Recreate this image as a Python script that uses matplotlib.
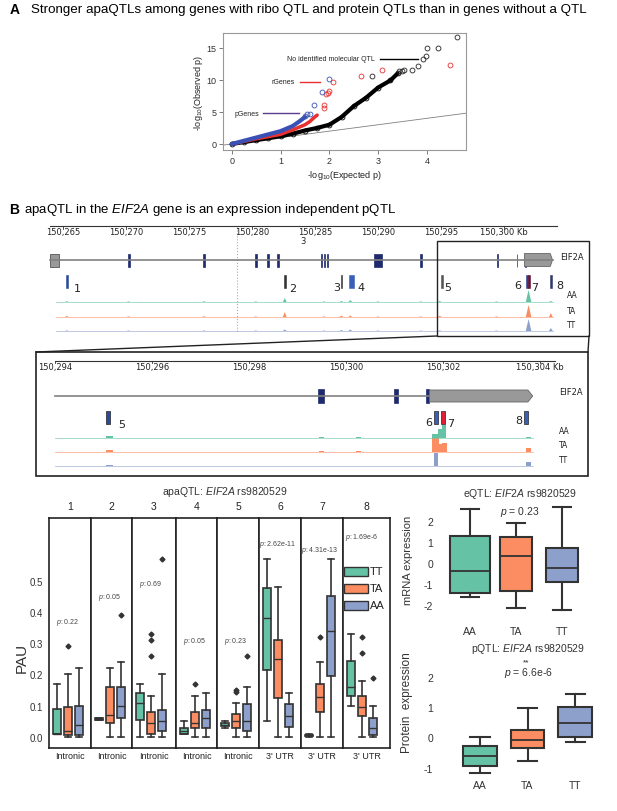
import matplotlib
matplotlib.use('Agg')
import matplotlib.pyplot as plt
from matplotlib.patches import Rectangle, Polygon

plt.rcParams['font.family'] = ['Liberation Sans', 'DejaVu Sans']
plt.rcParams['mathtext.fontset'] = 'custom'
plt.rcParams['mathtext.rm'] = 'Liberation Sans'
plt.rcParams['mathtext.it'] = 'Liberation Sans:italic'
plt.rcParams['axes.unicode_minus'] = False

# ---------------- data ----------------
# panel A: QQ plot (-log10 expected, -log10 observed)
qq_none_x = [0.0, 0.25, 0.5, 0.75, 1.0, 1.25, 1.5, 1.75, 2.0, 2.25, 2.5, 2.75, 3.0, 3.25, 3.4]
qq_none_y = [0.0, 0.3, 0.6, 0.9, 1.2, 1.6, 2.1, 2.5, 3.0, 4.2, 5.9, 7.2, 8.8, 9.9, 11.0]
qq_none_tail_x = [2.87, 3.42, 3.48, 3.53, 3.70, 3.82, 3.92, 3.97, 4.01, 4.23, 4.61]
qq_none_tail_y = [10.6, 11.35, 11.45, 11.6, 11.6, 12.1, 13.3, 13.65, 14.95, 14.95, 16.7]
qq_r_x = [0.0, 0.5, 1.0, 1.25, 1.5, 1.6, 1.7, 1.75]
qq_r_y = [0.0, 0.8, 1.5, 2.2, 3.0, 3.5, 4.2, 4.5]
qq_r_tail_x = [1.88, 1.9, 1.93, 1.97, 2.0, 2.08, 2.65, 3.07, 4.47]
qq_r_tail_y = [5.6, 6.0, 7.8, 8.0, 8.2, 9.7, 10.6, 11.5, 12.3]
qq_p_x = [0.0, 0.5, 1.0, 1.25, 1.4, 1.5]
qq_p_y = [0.0, 1.0, 2.0, 2.8, 3.6, 4.2]
qq_p_tail_x = [1.5, 1.55, 1.6, 1.69, 1.85, 1.99]
qq_p_tail_y = [4.3, 4.6, 4.7, 6.0, 8.1, 10.1]

# panel B: EIF2A gene model (kb)
exon_start = [150270.15, 150276.15, 150280.25, 150281.2, 150282.0, 150285.45, 150285.7,
              150285.95, 150289.7, 150293.35, 150299.42, 150301.0, 150301.65]
exon_end = [150270.3, 150276.3, 150280.4, 150281.35, 150282.15, 150285.55, 150285.8,
            150286.05, 150290.3, 150293.5, 150299.55, 150301.07, 150301.72]
utr5 = (150264.0, 150264.7)
utr3 = (150301.72, 150303.85)
top_ticks = [150265, 150270, 150275, 150280, 150285, 150290, 150295, 150300]
low_ticks = [150294, 150296, 150298, 150300, 150302, 150304]

# polyA sites 1-8
pas_ids = ['1', '2', '3', '4', '5', '6', '7', '8']
pas_pos = [150265.3, 150282.6, 150287.1, 150287.9, 150295.1, 150301.85, 150302.0, 150303.72]
pas_col_top = ['#2c4a9a', '#333333', '#333333', '#3a5fb8', '#555555', '#2c3f8c', '#6a1030', '#333a66']
pas_col_low = ['#2c4a9a', '#333333', '#333333', '#3a5fb8', '#2c4a9a', '#3a5fb8', '#e0203a', '#3a5fb8']

# read coverage (peak position kb, height px) per genotype, whole gene view
cov_pos = [150265.3, 150270.2, 150276.2, 150280.3, 150282.6, 150285.7, 150287.1, 150287.8,
           150290.0, 150293.4, 150294.9, 150299.4, 150301.95, 150303.72]
cov_top = {
    'AA': [0.8, 0.6, 0.8, 0.6, 4.0, 0.6, 1.0, 2.0, 0.6, 0.6, 1.0, 0.6, 12.0, 1.0],
    'TA': [1.0, 0.6, 0.8, 0.6, 5.0, 0.6, 1.5, 1.5, 0.6, 0.6, 1.2, 0.6, 12.0, 4.0],
    'TT': [0.6, 0.5, 0.6, 0.5, 1.5, 0.5, 1.0, 1.5, 0.5, 0.5, 0.6, 0.5, 12.0, 3.0],
}
# zoomed view coverage: (start kb, end kb, height px)
cov_low = {
    'AA': [(150295.05, 150295.2, 1.5), (150299.45, 150299.55, 0.7), (150300.2, 150300.3, 0.7),
           (150301.78, 150301.9, 4.0), (150301.9, 150301.98, 9.0), (150301.98, 150302.06, 13.0),
           (150303.72, 150303.82, 1.0)],
    'TA': [(150295.05, 150295.2, 2.5), (150299.45, 150299.55, 0.8), (150300.2, 150300.3, 0.8),
           (150301.78, 150301.92, 14.0), (150301.92, 150301.98, 8.0), (150301.98, 150302.08, 9.0),
           (150303.72, 150303.82, 4.5)],
    'TT': [(150295.05, 150295.2, 0.8), (150299.45, 150299.55, 0.5), (150300.2, 150300.3, 0.5),
           (150301.82, 150301.9, 13.0), (150303.72, 150303.82, 4.0)],
}
geno_tracks = ['AA', 'TA', 'TT']
track_col = {'AA': '#66c2a5', 'TA': '#fc8d62', 'TT': '#8da0cb'}

# PAU boxplots, per site: [TT, TA, AA]
pau_geno = ['TT', 'TA', 'AA']
pau_col = ['#66c2a5', '#fc8d62', '#8da0cb']
site_type = ['Intronic'] * 5 + ["3' UTR"] * 3
pau_p = ['0.22', '0.05', '0.69', '0.05', '0.23', '2.62e-11', '4.31e-13', '1.69e-6']
pau_q1 = [[0.01, 0.005, 0.005], [0.053, 0.045, 0.06], [0.055, 0.01, 0.02], [0.01, 0.03, 0.03],
          [0.035, 0.03, 0.02], [0.214, 0.124, 0.033], [0.002, 0.08, 0.194], [0.13, 0.066, 0.007]]
pau_med = [[0.01, 0.02, 0.04], [0.057, 0.07, 0.10], [0.11, 0.045, 0.05], [0.02, 0.045, 0.06],
           [0.04, 0.05, 0.05], [0.38, 0.25, 0.067], [0.005, 0.127, 0.34], [0.16, 0.097, 0.03]]
pau_q3 = [[0.09, 0.095, 0.10], [0.06, 0.16, 0.16], [0.14, 0.08, 0.085], [0.03, 0.08, 0.085],
          [0.045, 0.075, 0.105], [0.475, 0.31, 0.105], [0.008, 0.17, 0.45], [0.244, 0.13, 0.06]]
pau_lo = [[0.01, 0.0, 0.0], [0.053, 0.0, 0.0], [0.0, 0.0, 0.0], [0.01, 0.0, 0.0],
          [0.03, 0.0, 0.0], [0.05, 0.0, 0.0], [0.0, 0.0, 0.0], [0.098, 0.0, 0.0]]
pau_hi = [[0.17, 0.20, 0.22], [0.06, 0.22, 0.24], [0.17, 0.13, 0.20], [0.05, 0.13, 0.14],
          [0.05, 0.11, 0.16], [0.57, 0.48, 0.14], [0.01, 0.24, 0.57], [0.33, 0.18, 0.10]]
pau_out = [[[], [0.29], []], [[], [], [0.39]], [[], [0.26, 0.31, 0.33], [0.57]], [[], [0.17], []],
           [[], [0.145, 0.15], [0.26]], [[], [], []], [[], [0.32], []], [[], [0.27, 0.32], [0.19]]]
p_label_y = [0.37, 0.45, 0.49, 0.31, 0.31, 0.62, 0.60, 0.64]

# eQTL / pQTL boxplots: [AA, TA, TT]
qtl_geno = ['AA', 'TA', 'TT']
qtl_col = ['#66c2a5', '#fc8d62', '#8da0cb']
e_q1 = [-1.44, -1.32, -0.92]
e_med = [-0.37, 0.35, -0.24]
e_q3 = [1.3, 1.22, 0.71]
e_lo = [-1.63, -2.16, -2.24]
e_hi = [2.57, 1.89, 2.68]
p_q1 = [-0.94, -0.36, 0.02]
p_med = [-0.63, -0.09, 0.46]
p_q3 = [-0.28, 0.25, 0.99]
p_lo = [-1.18, -0.77, -0.17]
p_hi = [0.02, 0.98, 1.43]

# ---------------- figure ----------------
W, H = 617, 812
fig = plt.figure(figsize=(W / 100, H / 100), dpi=100)


def px_axes(l, t, r, b):
    return fig.add_axes([l / W, 1 - b / H, (r - l) / W, (b - t) / H])


# ---- panel A ----
ax = px_axes(223, 34, 466, 151)
ax.set_xlim(-0.18, 4.8)
ax.set_ylim(-0.94, 17.3)
ax.plot([-0.18, 4.8], [-0.18, 4.8], color='#808080', lw=0.6)
ax.plot(qq_none_x, qq_none_y, color='black', lw=3, solid_capstyle='round')
ax.plot(qq_none_x, qq_none_y, 'o', mfc='none', mec='black', ms=3.5, mew=0.6)
ax.plot(qq_none_tail_x, qq_none_tail_y, 'o', mfc='none', mec='#222', ms=3.5, mew=0.6)
ax.plot(qq_r_x, qq_r_y, color='#e8312f', lw=2.5, solid_capstyle='round')
ax.plot(qq_r_tail_x, qq_r_tail_y, 'o', mfc='none', mec='#e8312f', ms=3.5, mew=0.6)
ax.plot(qq_p_x, qq_p_y, color='#3a50b5', lw=3, solid_capstyle='round')
ax.plot(qq_p_tail_x, qq_p_tail_y, 'o', mfc='none', mec='#3a50b5', ms=3.5, mew=0.6)
ax.text(1.13, 13.4, 'No identified molecular QTL', fontsize=5, va='center', color='#222')
ax.plot([3.03, 3.82], [13.3, 13.3], color='black', lw=1)
ax.text(0.82, 9.7, 'rGenes', fontsize=5, va='center', color='#222')
ax.plot([1.39, 1.80], [9.6, 9.6], color='#e8312f', lw=1)
ax.text(0.06, 4.8, 'pGenes', fontsize=5, va='center', color='#222')
ax.plot([0.64, 1.37], [4.8, 4.8], color='#5b3c8f', lw=1)
ax.set_xticks([0, 1, 2, 3, 4])
ax.set_yticks([0, 5, 10, 15])
ax.tick_params(labelsize=6.5, length=3, width=0.6, color='#666', labelcolor='#333', pad=1.5)
for s in ax.spines.values():
    s.set_color('#999')
    s.set_linewidth(0.8)
ax.set_xlabel('-log$_{10}$(Expected p)', fontsize=6.5, labelpad=2, color='#222')
ax.set_ylabel('-log$_{10}$(Observed p)', fontsize=6.5, labelpad=1, color='#222')

# ---- panel B: whole gene track ----
t0, s0 = 150265, 12.6          # kb at px 63, px per kb
trk = px_axes(40, 222, 600, 340)
trk.set_xlim(t0 + (40 - 63) / s0, t0 + (600 - 63) / s0)
trk.set_ylim(340, 222)
trk.axis('off')
trk.plot([t0 + (50 - 63) / s0, t0 + (557 - 63) / s0], [227, 227], color='#333', lw=0.8)
for t in top_ticks:
    trk.plot([t, t], [227, 229.5], color='#333', lw=0.6)
    lab = f'{t:,}' + (' Kb' if t == top_ticks[-1] else '')
    trk.text(t, 232.5, lab, fontsize=6, family='DejaVu Sans', ha='center', va='center', color='#222')
trk.text(t0 + (303 - 63) / s0, 242, '3', fontsize=6, family='DejaVu Sans', ha='center', va='center', color='#222')
trk.plot([150278.8, 150278.8], [228, 334], color='#aaaaaa', ls=':', lw=0.8)
trk.plot([utr5[0], utr3[1]], [261, 261], color='#808080', lw=1.2)
trk.add_patch(Rectangle((utr5[0], 254.5), utr5[1] - utr5[0], 13, fc='#999999', ec='#555555', lw=0.6))
for s, e in zip(exon_start, exon_end):
    trk.add_patch(Rectangle((s, 254.5), e - s, 13, fc='#1f2a6e', ec='#1f2a6e', lw=0.5))
trk.add_patch(Polygon([(utr3[0] - 0.1, 254.5), (utr3[1] - 0.18, 254.5), (utr3[1], 261),
                       (utr3[1] - 0.18, 267.5), (utr3[0] - 0.1, 267.5)], fc='#999999', ec='#666666', lw=0.6))
trk.text(t0 + (560 - 63) / s0, 257, 'EIF2A', fontsize=6, family='DejaVu Sans', va='center', color='#222')
top_lab_x = [77, 293, 337, 361, 448, 518, 535, 560]
top_lab_y = [289, 289, 288, 288, 288, 286, 288, 286]
for i, p in enumerate(pas_pos):
    w = 0.4 if i == 3 else 0.13
    trk.add_patch(Rectangle((p - w / 2, 276), w, 13, fc=pas_col_top[i], ec=pas_col_top[i], lw=0.4))
    trk.text(t0 + (top_lab_x[i] - 63) / s0, top_lab_y[i], pas_ids[i], fontsize=8,
             family='DejaVu Sans', ha='center', va='center', color='#222')
for k, g in enumerate(geno_tracks):
    base = [303, 318, 332][k]
    trk.plot([150264.45, 150303.9], [base, base], color=track_col[g], lw=0.5, alpha=0.8)
    for p, h in zip(cov_pos, cov_top[g]):
        hw = 0.22 if h > 6 else 0.15
        trk.fill([p - hw, p, p + hw], [base, base - h, base], color=track_col[g], lw=0)
    trk.text(t0 + (567 - 63) / s0, [296, 311, 325][k], g, fontsize=5.5, family='DejaVu Sans',
             va='center', color='#222')

# ---- panel B: zoomed track ----
z0, zs = 150294, 48.5
low = px_axes(36, 353, 588, 477)
low.set_xlim(z0 + (36 - 55) / zs, z0 + (588 - 55) / zs)
low.set_ylim(477, 353)
low.axis('off')
low.plot([z0, z0 + (555 - 55) / zs], [361.5, 361.5], color='#333', lw=0.8)
for t in low_ticks:
    low.plot([t, t], [361.5, 364], color='#333', lw=0.6)
    lab = f'{t:,}' + (' Kb' if t == low_ticks[-1] else '')
    low.text(t, 367.5, lab, fontsize=6, family='DejaVu Sans', ha='center', va='center', color='#222')
low.plot([z0, utr3[0]], [397, 397], color='#808080', lw=1.2)
for s, e in zip(exon_start, exon_end):
    if s > z0:
        low.add_patch(Rectangle((s, 390), e - s, 14, fc='#1f2a6e', ec='#1f2a6e', lw=0.5))
low.add_patch(Polygon([(utr3[0], 391), (utr3[1] - 0.1, 391), (utr3[1], 397),
                       (utr3[1] - 0.1, 403), (utr3[0], 403)], fc='#999999', ec='#666666', lw=0.6))
low.text(z0 + (559 - 55) / zs, 393, 'EIF2A', fontsize=6, family='DejaVu Sans', va='center', color='#222')
low_lab_x = {4: 122, 5: 429, 6: 451, 7: 519}
low_lab_y = {4: 425, 5: 423, 6: 424, 7: 421}
for i in range(4, 8):
    low.add_patch(Rectangle((pas_pos[i] - 0.04, 412), 0.08, 13, fc=pas_col_low[i], ec='#222', lw=0.5))
    low.text(z0 + (low_lab_x[i] - 55) / zs, low_lab_y[i], pas_ids[i], fontsize=8,
             family='DejaVu Sans', ha='center', va='center', color='#222')
for k, g in enumerate(geno_tracks):
    base = [438.5, 453, 467][k]
    low.plot([z0, utr3[1]], [base, base], color=track_col[g], lw=0.5, alpha=0.8)
    for s, e, h in cov_low[g]:
        low.add_patch(Rectangle((s, base - h), e - s, h, fc=track_col[g], ec='none'))
    low.text(z0 + (559 - 55) / zs, [432, 446, 461][k], g, fontsize=5.5, family='DejaVu Sans',
             va='center', color='#222')

# ---- panel B: PAU per site ----
edges = [49, 91, 132, 176, 217, 259, 301, 343, 390]
for i in range(8):
    l, r = edges[i], edges[i + 1]
    fa = px_axes(l, 519, r, 749)
    fa.set_xlim(-8 / 11, (r - l - 8) / 11)
    fa.set_ylim(-0.035, 0.70)
    stats = [dict(med=pau_med[i][j], q1=pau_q1[i][j], q3=pau_q3[i][j], whislo=pau_lo[i][j],
                  whishi=pau_hi[i][j], fliers=pau_out[i][j]) for j in range(3)]
    bp = fa.bxp(stats, positions=[0, 1, 2], widths=0.75, patch_artist=True, capwidths=0.6,
                boxprops=dict(ec='#333333', lw=1.2), whiskerprops=dict(color='#333333', lw=1.2),
                capprops=dict(color='#333333', lw=1.2), medianprops=dict(color='#333333', lw=1.0),
                flierprops=dict(marker='D', ms=2.5, mfc='#333333', mec='#333333'))
    for patch, c in zip(bp['boxes'], pau_col):
        patch.set_facecolor(c)
    fa.text(1, p_label_y[i], '$\\mathit{p}$: ' + pau_p[i], fontsize=5, ha='center', va='center', color='#444')
    fa.set_xticks([])
    if i == 0:
        fa.set_yticks([0, 0.1, 0.2, 0.3, 0.4, 0.5])
        fa.set_yticklabels(['0.0', '0.1', '0.2', '0.3', '0.4', '0.5'])
        fa.tick_params(axis='y', length=0, labelsize=7, labelcolor='#333', pad=4)
    else:
        fa.set_yticks([])
    for s in fa.spines.values():
        s.set_color('#222')
        s.set_linewidth(1.2)

# ---- eQTL ----
ea = px_axes(440, 500, 600, 620)
ea.set_xlim(-0.652, 2.826)
ea.set_ylim(-2.67, 3.05)
stats = [dict(med=e_med[j], q1=e_q1[j], q3=e_q3[j], whislo=e_lo[j], whishi=e_hi[j], fliers=[])
         for j in range(3)]
bp = ea.bxp(stats, positions=[0, 1, 2], widths=[0.85, 0.7, 0.68], patch_artist=True, capwidths=0.4,
            boxprops=dict(ec='#333333', lw=1.5), whiskerprops=dict(color='#333333', lw=1.5),
            capprops=dict(color='#333333', lw=1.5), medianprops=dict(color='#333333', lw=1.3))
for patch, c in zip(bp['boxes'], qtl_col):
    patch.set_facecolor(c)
ea.set_xticks([0, 1, 2])
ea.set_xticklabels(qtl_geno)
ea.set_yticks([-2, -1, 0, 1, 2])
ea.tick_params(length=0, labelsize=7.5, labelcolor='#333')
ea.tick_params(axis='y', pad=5)
ea.tick_params(axis='x', pad=5)
ea.set_ylabel('mRNA expression', fontsize=8, color='#333')
ea.yaxis.set_label_coords((413 - 440) / 160, 0.5)
for s in ea.spines.values():
    s.set_visible(False)

# ---- pQTL ----
pa = px_axes(440, 640, 600, 780)
pa.set_xlim(-0.842, 2.526)
pa.set_ylim(-1.376, 3.24)
stats = [dict(med=p_med[j], q1=p_q1[j], q3=p_q3[j], whislo=p_lo[j], whishi=p_hi[j], fliers=[])
         for j in range(3)]
bp = pa.bxp(stats, positions=[0, 1, 2], widths=0.7, patch_artist=True, capwidths=0.4,
            boxprops=dict(ec='#333333', lw=1.5), whiskerprops=dict(color='#333333', lw=1.5),
            capprops=dict(color='#333333', lw=1.5), medianprops=dict(color='#333333', lw=1.3))
for patch, c in zip(bp['boxes'], qtl_col):
    patch.set_facecolor(c)
pa.set_xticks([0, 1, 2])
pa.set_xticklabels(qtl_geno)
pa.set_yticks([-1, 0, 1, 2])
pa.tick_params(length=0, labelsize=7.5, labelcolor='#333')
pa.tick_params(axis='y', pad=5)
pa.tick_params(axis='x', pad=1)
pa.set_ylabel('Protein  expression', fontsize=8.5, color='#333')
pa.yaxis.set_label_coords((413 - 440) / 160, 0.55)
for s in pa.spines.values():
    s.set_visible(False)

# ---- overlay: titles, zoom boxes, labels ----
ov = fig.add_axes([0, 0, 1, 1])
ov.set_xlim(0, W)
ov.set_ylim(H, 0)
ov.axis('off')
ov.patch.set_alpha(0)
ov.text(10, 10, 'A', fontsize=10, fontweight='bold', va='center')
ov.text(31, 10, 'Stronger apaQTLs among genes with ribo QTL and protein QTLs than in genes without a QTL',
        fontsize=9.65, va='center')
ov.text(9, 210, 'B', fontsize=10, fontweight='bold', va='center')
ov.text(24, 210, 'apaQTL in the $\\mathit{EIF2A}$ gene is an expression independent pQTL',
        fontsize=9.5, va='center')
ov.add_patch(Rectangle((437, 242), 152, 95, fill=False, ec='#222', lw=1))
ov.add_patch(Rectangle((36, 353), 552, 124, fill=False, ec='#222', lw=1.2))
ov.plot([437, 36], [337, 353], color='#222', lw=1)
ov.plot([589, 588], [337, 353], color='#222', lw=1)
ov.text(225, 492, 'apaQTL: $\\mathit{EIF2A}$ rs9820529', fontsize=7.5, ha='center', va='center', color='#333')
for i in range(8):
    cx = (edges[i] + edges[i + 1]) / 2
    ov.text(cx, 507, pas_ids[i], fontsize=7.5, ha='center', va='center', color='#222')
    ov.text(cx, 757, site_type[i], fontsize=6.5, ha='center', va='center', color='#222')
ov.text(22, 658, 'PAU', fontsize=11, rotation=90, ha='center', va='center', color='#333')
for k, g in enumerate(pau_geno):
    y = [572, 589, 606][k]
    ov.add_patch(Rectangle((344, y - 4.5), 24, 9, fc=pau_col[k], ec='#333', lw=1))
    ov.text(370, y, g, fontsize=8, va='center', color='#222')
ov.text(520, 494, 'eQTL: $\\mathit{EIF2A}$ rs9820529', fontsize=7.5, ha='center', va='center', color='#333')
ov.text(520, 512, '$\\mathit{p}$ = 0.23', fontsize=7.5, ha='center', va='center', color='#333')
ov.text(528, 649, 'pQTL: $\\mathit{EIF2A}$ rs9820529', fontsize=7.5, ha='center', va='center', color='#333')
ov.text(526, 663, '**', fontsize=6, ha='center', va='center', color='#222')
ov.text(528, 673, '$\\mathit{p}$ = 6.6e-6', fontsize=7.5, ha='center', va='center', color='#333')

fig.savefig('out.png', dpi=100)
